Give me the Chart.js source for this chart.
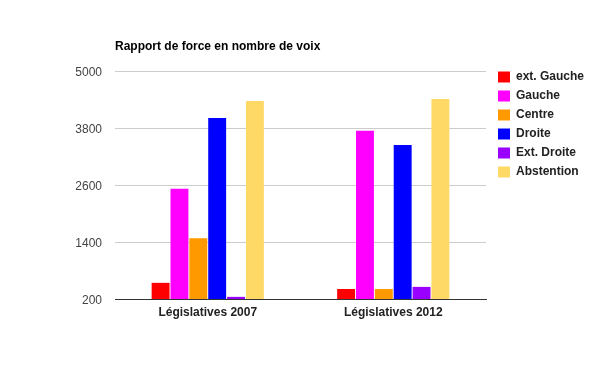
<!DOCTYPE html>
<html>
<head>
<meta charset="utf-8">
<script src="https://cdn.jsdelivr.net/npm/chart.js@4/dist/chart.umd.min.js"></script>
<style>
    html, body { margin: 0; padding: 0; background: #fff; }
    #wrap { width: 600px; height: 371px; }
</style>
</head>
<body>
<div id="wrap"><canvas id="voixChart" width="600" height="371"></canvas></div>
<script>
// Data
const categories = ['Législatives 2007', 'Législatives 2012'];
const seriesNames = ['ext. Gauche', 'Gauche', 'Centre', 'Droite', 'Ext. Droite', 'Abstention'];
const extGauche = [540, 410];
const gauche = [2520, 3740];
const centre = [1480, 410];
const droite = [4010, 3440];
const extDroite = [245, 455];
const abstention = [4370, 4410];
const yTicks = [200, 1400, 2600, 3800, 5000];

const seriesValues = [extGauche, gauche, centre, droite, extDroite, abstention];
const seriesColors = ['#ff0000', '#ff00ff', '#ff9900', '#0000ff', '#9900ff', '#ffd966'];

const FONT = 'Arial, "Liberation Sans", sans-serif';

// Nudge the legend to sit where the original has it
const legendNudge = {
    id: 'legendNudge',
    afterInit(chart) {
        const legend = chart.legend;
        const fit = legend.fit.bind(legend);
        legend.fit = function () {
            fit();
            this.width = 114;
        };
    },
    afterLayout(chart) {
        chart.legend.left += 5;
        chart.legend.top -= 7;
    }
};

new Chart(document.getElementById('voixChart'), {
    type: 'bar',
    data: {
        labels: categories,
        datasets: seriesNames.map((name, i) => ({
            label: name,
            data: seriesValues[i],
            backgroundColor: seriesColors[i],
            borderWidth: 0,
            categoryPercentage: 0.61,
            barPercentage: 0.95
        }))
    },
    options: {
        responsive: false,
        animation: false,
        devicePixelRatio: 1,
        layout: { padding: { left: 0, right: 0, top: 0, bottom: 0 } },
        plugins: {
            title: {
                display: true,
                text: 'Rapport de force en nombre de voix',
                align: 'start',
                fullSize: false,
                color: '#000',
                font: { family: FONT, size: 12, weight: 'bold' },
                padding: { top: 39, bottom: 17.6 }
            },
            legend: {
                position: 'right',
                align: 'start',
                fullSize: false,
                labels: {
                    boxWidth: 12,
                    boxHeight: 11,
                    padding: 7,
                    color: '#222',
                    font: { family: FONT, size: 12, weight: 'bold' }
                }
            },
            tooltip: { enabled: false }
        },
        scales: {
            x: {
                grid: { display: false, drawTicks: false },
                border: { display: true, color: '#333', width: 1 },
                ticks: {
                    padding: 6,
                    color: '#222',
                    font: { family: FONT, size: 12, weight: 'bold' }
                },
                afterFit(scale) { scale.height = 72; }
            },
            y: {
                min: yTicks[0],
                max: yTicks[yTicks.length - 1],
                afterBuildTicks(scale) {
                    scale.ticks = yTicks.map(v => ({ value: v }));
                },
                grid: { color: '#cccccc', drawTicks: false },
                border: { display: false },
                ticks: {
                    padding: 13,
                    labelOffset: 1.5,
                    color: '#444',
                    font: { family: FONT, size: 12 },
                    callback: value => String(value)
                },
                afterFit(scale) { scale.width = 115; }
            }
        }
    },
    plugins: [legendNudge]
});
</script>
</body>
</html>
